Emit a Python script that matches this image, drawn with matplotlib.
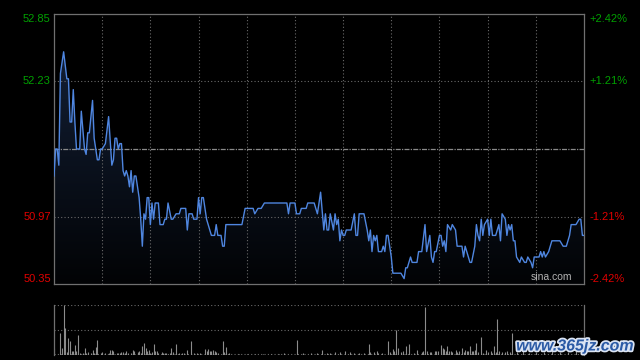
import matplotlib
matplotlib.use('Agg')
import matplotlib.pyplot as plt
import matplotlib.patheffects as pe
from matplotlib.colors import LinearSegmentedColormap
import numpy as np

# intraday price, minutes from the open (HK session, 330 minutes)
minutes = [0, 1, 2, 3, 4, 5, 6, 8, 9, 10, 11, 12, 13, 14, 16, 17, 19, 20, 21, 22,
           24, 25, 27, 28, 29, 30, 32, 34, 36, 37, 38, 39, 40, 41, 42, 43, 44, 45,
           46, 47, 48, 49, 50, 51, 52, 53, 54, 55, 56, 57, 58, 59, 60, 61, 62, 63,
           65, 66, 68, 69, 70, 71, 73, 74, 76, 78, 79, 82, 83, 84, 86, 87, 89, 90,
           91, 92, 93, 95, 96, 98, 100, 101, 102, 104, 105, 106, 107, 117, 119, 124,
           125, 127, 129, 131, 145, 146, 147, 150, 151, 153, 154, 157, 158, 162, 164,
           166, 168, 169, 170, 171, 172, 174, 175, 176, 177, 178, 179, 180, 181, 182,
           185, 187, 188, 189, 190, 193, 195, 196, 197, 198, 199, 200, 201, 202, 204,
           205, 206, 207, 208, 209, 210, 211, 216, 218, 219, 220, 222, 223, 226, 227,
           229, 231, 232, 234, 235, 236, 237, 238, 240, 241, 242, 243, 244, 245, 247,
           248, 250, 251, 252, 254, 255, 256, 258, 259, 260, 262, 263, 264, 265, 266,
           267, 268, 270, 271, 272, 273, 275, 277, 278, 279, 281, 282, 283, 284, 285,
           286, 287, 288, 290, 291, 293, 294, 295, 297, 298, 299, 300, 302, 303, 304,
           305, 306, 308, 309, 310, 315, 317, 319, 321, 322, 325, 327, 328, 329, 330]
prices = [51.35, 51.60, 51.60, 51.45, 52.30, 52.40, 52.50, 52.25, 52.25, 51.85,
          51.85, 52.15, 51.85, 51.60, 51.60, 51.95, 51.60, 51.55, 51.75, 51.75,
          52.05, 51.70, 51.50, 51.50, 51.60, 51.60, 51.65, 51.90, 51.45, 51.50,
          51.70, 51.70, 51.60, 51.65, 51.65, 51.40, 51.35, 51.40, 51.35, 51.25,
          51.40, 51.20, 51.35, 51.35, 51.25, 51.15, 50.95, 50.70, 51.00, 50.95,
          51.15, 51.15, 50.90, 51.10, 50.95, 51.10, 51.10, 50.90, 50.90, 50.95,
          50.95, 51.10, 50.95, 50.95, 51.00, 51.00, 51.05, 51.05, 50.85, 51.00,
          51.00, 50.95, 50.95, 51.15, 51.00, 51.15, 51.15, 50.95, 50.90, 50.80,
          50.80, 50.90, 50.80, 50.80, 50.70, 50.70, 50.90, 50.90, 51.05, 51.05,
          51.00, 51.05, 51.05, 51.10, 51.10, 51.00, 51.10, 51.10, 51.00, 51.00,
          51.05, 51.05, 51.10, 51.10, 51.00, 51.20, 50.85, 51.00, 50.85, 50.85,
          51.00, 50.85, 51.00, 50.90, 50.95, 50.75, 50.85, 50.80, 50.80, 50.85,
          50.85, 51.00, 50.80, 50.80, 51.00, 51.00, 50.85, 50.75, 50.85, 50.65,
          50.80, 50.75, 50.80, 50.65, 50.65, 50.70, 50.65, 50.80, 50.80, 50.70,
          50.60, 50.45, 50.45, 50.40, 50.50, 50.50, 50.60, 50.55, 50.55, 50.65,
          50.65, 50.90, 50.65, 50.80, 50.60, 50.55, 50.65, 50.65, 50.80, 50.80,
          50.70, 50.75, 50.65, 50.90, 50.85, 50.90, 50.85, 50.70, 50.70, 50.70,
          50.60, 50.70, 50.60, 50.55, 50.55, 50.70, 50.90, 50.80, 50.75, 50.95,
          50.80, 50.90, 50.95, 50.80, 50.95, 50.80, 50.80, 50.90, 50.75, 51.00,
          50.95, 50.80, 50.90, 50.85, 50.90, 50.75, 50.75, 50.60, 50.55, 50.60,
          50.55, 50.55, 50.60, 50.55, 50.50, 50.60, 50.60, 50.60, 50.65, 50.60,
          50.65, 50.60, 50.65, 50.70, 50.75, 50.75, 50.70, 50.70, 50.80, 50.90,
          50.90, 50.95, 50.95, 50.80, 50.80]

# volume bars (relative units, max = 100)
vol_minutes = [0, 4, 5, 6, 7, 8, 9, 10, 11, 12, 13, 14, 15, 16, 18, 19, 20, 21, 23,
               24, 25, 26, 27, 29, 30, 32, 34, 35, 36, 37, 39, 40, 41, 42, 43, 44, 45,
               46, 48, 49, 50, 52, 53, 54, 55, 56, 57, 58, 59, 60, 61, 62, 63, 64, 65,
               67, 68, 69, 70, 72, 73, 74, 76, 78, 80, 81, 83, 85, 87, 89, 91, 94, 95,
               96, 97, 98, 99, 100, 101, 102, 105, 106, 107, 109, 115, 120, 125, 130,
               135, 140, 143, 151, 155, 160, 164, 167, 170, 172, 175, 178, 181, 184,
               187, 190, 193, 196, 197, 199, 201, 202, 204, 208, 209, 211, 212, 213,
               214, 216, 217, 219, 221, 224, 226, 229, 230, 231, 232, 234, 235, 237,
               238, 239, 241, 242, 243, 244, 245, 246, 247, 248, 250, 251, 252, 254,
               255, 256, 257, 258, 259, 260, 261, 262, 263, 264, 266, 267, 269, 270,
               272, 273, 274, 275, 276, 277, 279, 281, 282, 284, 285, 288, 292, 296,
               300, 305, 310, 315, 320, 325, 330]
vol_values = [13, 43, 13, 100, 53, 5, 33, 27, 7, 8, 20, 8, 40, 3, 3, 13, 3, 5, 3,
              9, 3, 15, 30, 3, 5, 3, 3, 9, 9, 8, 3, 3, 4, 5, 5, 3, 8,
              3, 4, 10, 7, 5, 7, 3, 18, 23, 13, 7, 10, 3, 5, 22, 7, 8, 3,
              5, 3, 3, 4, 3, 13, 5, 22, 3, 3, 3, 10, 28, 3, 3, 3, 12, 7,
              12, 7, 7, 9, 7, 5, 3, 28, 5, 16, 3, 2, 2, 2, 2,
              2, 2, 4, 30, 3, 3, 3, 9, 3, 3, 5, 5, 8, 5,
              3, 3, 3, 21, 5, 5, 8, 3, 3, 28, 5, 12, 7, 50,
              13, 5, 7, 17, 21, 3, 9, 5, 7, 95, 7, 5, 5, 7,
              7, 7, 19, 13, 12, 8, 17, 7, 8, 5, 10, 5, 7, 13,
              5, 10, 7, 8, 17, 8, 7, 10, 23, 5, 35, 3, 10, 5,
              8, 3, 17, 5, 71, 7, 5, 5, 8, 5, 43, 5, 8, 4,
              6, 5, 8, 5, 6, 7, 12]

prev_close = 51.60
price_ticks = [52.85, 52.23, 50.97, 50.35]
price_labels = ['52.85', '52.23', '50.97', '50.35']
pct_labels = ['+2.42%', '+1.21%', '-1.21%', '-2.42%']
tick_colors = ['#00a000', '#00a000', '#e00000', '#e00000']
tick_va = ['top', 'center', 'center', 'bottom']

plt.rcParams['font.family'] = ['Liberation Sans', 'DejaVu Sans']

fig = plt.figure(figsize=(6.4, 3.6), dpi=100)
fig.patch.set_facecolor('black')

# price panel
ax = fig.add_axes([54 / 640, 1 - 284 / 360, 530 / 640, 270 / 360])
ax.set_facecolor('black')
ax.set_xlim(0, 330)
ax.set_ylim(50.35, 52.85)
ax.set_xticks([])
ax.set_yticks([])
for s in ax.spines.values():
    s.set_color('#707070')
    s.set_linewidth(0.9)

grid_style = dict(color='#6a6a6a', lw=0.8, ls=(0, (1, 2)))
for m in range(30, 330, 30):
    ax.axvline(m, **grid_style)
ax.axhline(52.23, **grid_style)
ax.axhline(50.97, **grid_style)
ax.axhline(prev_close, color='#8a8a8a', lw=0.9, ls=(0, (4, 1, 1, 1)))

# gradient area under the line
poly = ax.fill_between(minutes, prices, 50.35, facecolor='none', edgecolor='none')
cmap = LinearSegmentedColormap.from_list('area', ['#020305', '#15233c'])
grad = np.linspace(0, 1, 256).reshape(-1, 1)
img = ax.imshow(grad, extent=[0, 330, 50.35, 52.85], origin='lower',
                aspect='auto', cmap=cmap, zorder=1)
img.set_clip_path(poly.get_paths()[0], transform=ax.transData)

ax.plot(minutes, prices, color='#4f86e0', lw=1.0, zorder=3)

yt = ax.get_yaxis_transform()
for p, lab, pct, c, va in zip(price_ticks, price_labels, pct_labels, tick_colors, tick_va):
    ax.text(-0.006, p, lab, transform=yt, ha='right', va=va, color=c, fontsize=8)
    ax.text(1.011, p, pct, transform=yt, ha='left', va=va, color=c, fontsize=8)

ax.text(0.978, 0.008, 'sina.com', transform=ax.transAxes, ha='right', va='bottom',
        color='#b4b4b4', fontsize=7.5)

# volume panel
ax2 = fig.add_axes([54 / 640, 1 - 354.7 / 360, 530 / 640, 49.7 / 360])
ax2.set_facecolor('black')
ax2.set_xlim(0, 330)
ax2.set_ylim(0, 100)
ax2.set_xticks([])
ax2.set_yticks([])
ax2.spines['top'].set_visible(False)
ax2.spines['bottom'].set_visible(False)
for side in ['left', 'right']:
    ax2.spines[side].set_color('#707070')
    ax2.spines[side].set_linewidth(0.9)
for level in [100, 50, 0.5]:
    ax2.axhline(level, **grid_style)
ax2.vlines(vol_minutes, 0, vol_values, color='#8c8c8c', lw=0.8)

fig.text(634 / 640, 1 - 346 / 360, 'www.365jz.com', ha='right', va='center',
         color='#2b5aa5', fontsize=11.5, fontweight='bold', fontstyle='italic',
         path_effects=[pe.Stroke(linewidth=2.5, foreground='#dbe4f3'), pe.Normal()])

fig.savefig('out.png', dpi=100, facecolor='black')
